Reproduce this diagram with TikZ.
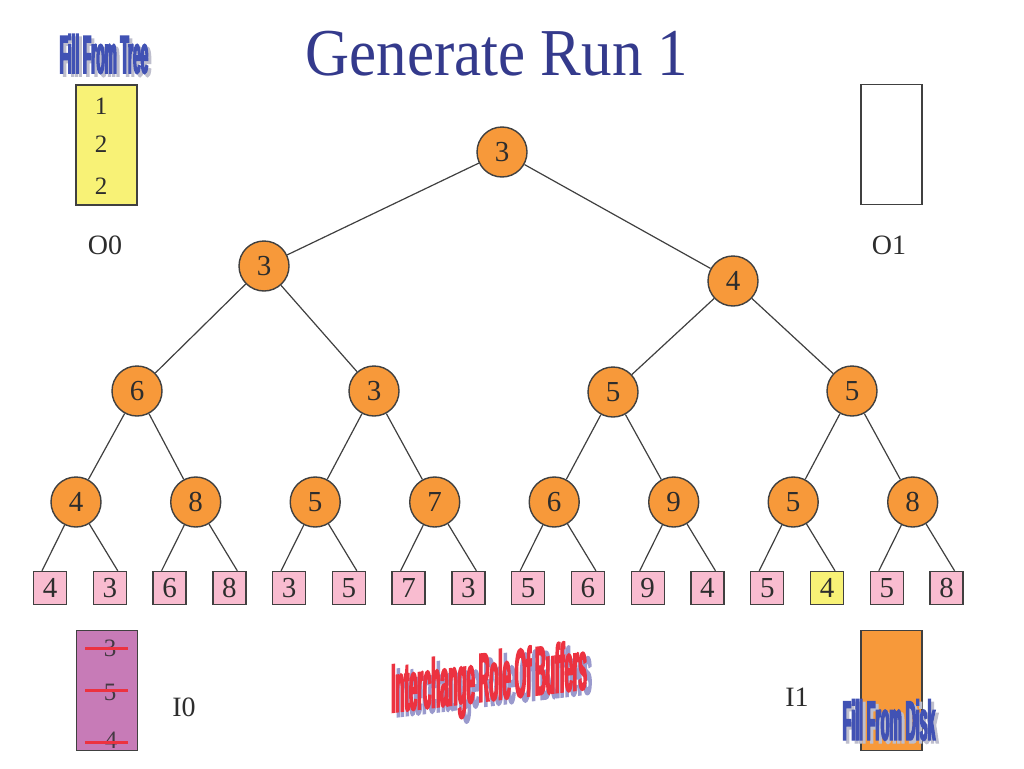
\documentclass[tikz,border=0pt]{standalone}
\usepackage{fontspec}
\setmainfont{Liberation Serif}
\newfontfamily\wordart[FakeStretch=0.25,FakeBold=2.5]{Liberation Sans}
\usetikzlibrary{calc}
\definecolor{orng}{RGB}{247,153,58}
\definecolor{pinkc}{RGB}{249,188,208}
\definecolor{yelc}{RGB}{248,242,118}
\definecolor{purpc}{RGB}{199,123,183}
\definecolor{linec}{RGB}{64,64,64}
\definecolor{digitc}{RGB}{45,45,45}
\definecolor{titlec}{RGB}{52,58,140}
\definecolor{wablue}{RGB}{65,82,180}
\definecolor{wagray}{RGB}{190,190,205}
\definecolor{wared}{RGB}{236,50,64}
\definecolor{walav}{RGB}{154,154,205}
\begin{document}
\begin{tikzpicture}[x=1pt,y=-1pt,
  inode/.style={circle,draw=linec,line width=1.4pt,fill=orng,minimum size=50pt,inner sep=0pt,font=\fontsize{29}{29}\selectfont,text=digitc},
  leaf/.style={rectangle,draw=linec,line width=1.4pt,fill=pinkc,minimum size=33pt,inner sep=0pt,font=\fontsize{29}{29}\selectfont,text=digitc},
  edge/.style={draw=linec,line width=1.2pt},
  buf/.style={rectangle,draw=linec,line width=1.4pt,inner sep=0pt,minimum width=61pt,minimum height=120pt},
  lab/.style={font=\fontsize{28}{28}\selectfont,text=digitc,inner sep=0pt},
  bnum/.style={font=\fontsize{25}{25}\selectfont,text=digitc,inner sep=0pt},
  strike/.style={draw=wared,line width=3pt},
  wa/.style={inner sep=0pt,font=\wordart\bfseries\fontsize{54}{54}\selectfont},
]
\useasboundingbox[fill=white] (0,0) rectangle (1024,768);

% title
\node[text=titlec,inner sep=0pt,font=\fontsize{67}{67}\selectfont] (title) at (497,54) {\scalebox{0.91}[1]{Generate Run 1}};

% tree internal nodes
\node[inode] (r) at (502,152) {3};
\node[inode] (a1) at (264,266) {3};
\node[inode] (a2) at (733,281) {4};
\node[inode] (b1) at (137,391) {6};
\node[inode] (b2) at (374,391) {3};
\node[inode] (b3) at (613,392) {5};
\node[inode] (b4) at (852,391) {5};
\node[inode] (c1) at (76,502) {4};
\node[inode] (c2) at (195.7,502) {8};
\node[inode] (c3) at (315.2,502) {5};
\node[inode] (c4) at (434.7,502) {7};
\node[inode] (c5) at (554.2,502) {6};
\node[inode] (c6) at (673.7,502) {9};
\node[inode] (c7) at (793.2,502) {5};
\node[inode] (c8) at (912.7,502) {8};

% leaves
\foreach \v [count=\i from 0] in {4,3,6,8,3,5,7,3,5,6,9,4,5,4,5,8}{
  \node[leaf] (l\i) at ({50+59.77*\i},588) {\v};
}
\node[leaf,fill=yelc] at (l13) {4};

% edges
\draw[edge] (r) -- (a1);
\draw[edge] (r) -- (a2);
\draw[edge] (a1) -- (b1);
\draw[edge] (a1) -- (b2);
\draw[edge] (a2) -- (b3);
\draw[edge] (a2) -- (b4);
\draw[edge] (b1) -- (c1);
\draw[edge] (b1) -- (c2);
\draw[edge] (b2) -- (c3);
\draw[edge] (b2) -- (c4);
\draw[edge] (b3) -- (c5);
\draw[edge] (b3) -- (c6);
\draw[edge] (b4) -- (c7);
\draw[edge] (b4) -- (c8);
\foreach \c [evaluate=\c as \L using int(2*(\c-1)), evaluate=\c as \R using int(2*(\c-1)+1)] in {1,...,8}{
  \draw[edge] (c\c) -- ($(l\L.north)+(-8,0)$);
  \draw[edge] (c\c) -- ($(l\R.north)+(8,0)$);
}

% buffers
\node[buf,fill=yelc] (o0) at (106.3,145) {};
\node[bnum] (o0a) at (101,106.5) {1};
\node[bnum] (o0b) at (101,144) {2};
\node[bnum] (o0c) at (101,186) {2};
\node[lab] (o0l) at (105,245) {O0};

\node[buf,fill=white] (o1) at (891.5,144.5) {};
\node[lab] (o1l) at (889,245) {O1};

\node[buf,fill=purpc] (i0) at (106.7,690.7) {};
\node[bnum,text=digitc!85!purpc] (i0a) at (110,648) {3};
\node[bnum,text=digitc!85!purpc] (i0b) at (110,692) {5};
\node[bnum,text=digitc!85!purpc] (i0c) at (111,740) {4};
\coordinate (s1a) at (85,648.3); \coordinate (s1b) at (128.3,648.3);
\coordinate (s2a) at (85,690.7); \coordinate (s2b) at (128.3,690.7);
\coordinate (s3a) at (85,742.3); \coordinate (s3b) at (128.3,742.3);
\draw[strike] (s1a) -- (s1b);
\draw[strike] (s2a) -- (s2b);
\draw[strike] (s3a) -- (s3b);
\node[lab] (i0l) at (184,707) {I0};

\node[buf,fill=orng] (i1) at (891.6,690.7) {};
\node[lab] (i1l) at (797,697) {I1};

% word art labels
\node[wa,text=wagray] (fts) at (107,57) {Fill From Tree};
\node[wa,text=wablue] (ft) at (104,54) {Fill From Tree};
\node[wa,text=wagray,font=\wordart\bfseries\fontsize{56}{56}\selectfont] (fds) at (892,723) {Fill From Disk};
\node[wa,text=wablue,font=\wordart\bfseries\fontsize{56}{56}\selectfont] (fd) at (889,720) {Fill From Disk};

\begin{scope}[shift={(489,683)},yslant=0.12]
  \node[wa,transform shape,text=walav,font=\wordart\bfseries\fontsize{64}{64}\selectfont] (ibs) at (5,5) {\scalebox{0.92}[1.08]{Interchange Role Of Buffers}};
  \node[wa,transform shape,text=wared,font=\wordart\bfseries\fontsize{64}{64}\selectfont] (ib) at (0,0) {\scalebox{0.92}[1.08]{Interchange Role Of Buffers}};
\end{scope}
\end{tikzpicture}
\end{document}
